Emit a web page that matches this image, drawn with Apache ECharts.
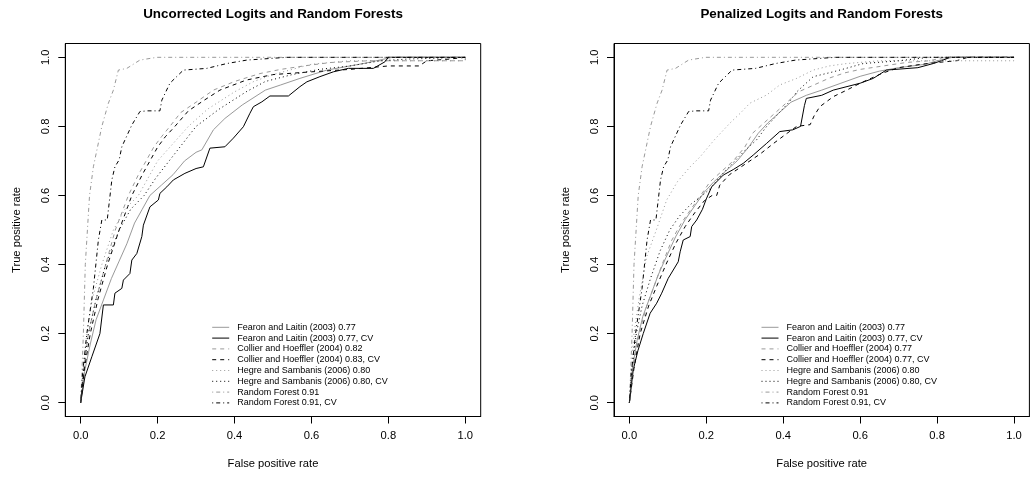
<!DOCTYPE html>
<html><head><meta charset="utf-8">
<script src="https://cdn.jsdelivr.net/npm/echarts@6/dist/echarts.min.js"></script>
<style>html,body{margin:0;padding:0;background:#fff}#c{width:1030px;height:479px}</style>
</head><body><div id="c"></div>
<script>
const panelTitles = ['Uncorrected Logits and Random Forests', 'Penalized Logits and Random Forests'];
const xAxisTitle = 'False positive rate';
const yAxisTitle = 'True positive rate';
const tickValues = [0, 0.2, 0.4, 0.6, 0.8, 1.0];
const legendLeft = ['Fearon and Laitin (2003) 0.77', 'Fearon and Laitin (2003) 0.77, CV',
  'Collier and Hoeffler (2004) 0.82', 'Collier and Hoeffler (2004) 0.83, CV',
  'Hegre and Sambanis (2006) 0.80', 'Hegre and Sambanis (2006) 0.80, CV',
  'Random Forest 0.91', 'Random Forest 0.91, CV'];
const legendRight = ['Fearon and Laitin (2003) 0.77', 'Fearon and Laitin (2003) 0.77, CV',
  'Collier and Hoeffler (2004) 0.77', 'Collier and Hoeffler (2004) 0.77, CV',
  'Hegre and Sambanis (2006) 0.80', 'Hegre and Sambanis (2006) 0.80, CV',
  'Random Forest 0.91', 'Random Forest 0.91, CV'];

// Random forest curves (same in both panels)
const rfTest = [[0,0],[0.0035,0.095],[0.007,0.2],[0.012,0.4],[0.023,0.6],[0.033,0.683],[0.055,0.8],[0.072,0.867],[0.085,0.905],[0.098,0.963],[0.12,0.968],[0.154,0.992],[0.198,1],[1,1]];
const rfCV = [[0,0],[0.005,0.085],[0.016,0.2],[0.026,0.278],[0.033,0.331],[0.046,0.471],[0.055,0.529],[0.069,0.529],[0.081,0.645],[0.089,0.683],[0.1,0.703],[0.107,0.741],[0.133,0.804],[0.154,0.843],[0.173,0.845],[0.206,0.845],[0.211,0.876],[0.232,0.925],[0.267,0.963],[0.328,0.968],[0.38,0.982],[0.432,0.992],[0.536,1],[1,1]];

// Uncorrected logits
const flU = [[0,0],[0.01,0.09],[0.025,0.17],[0.04,0.24],[0.06,0.3],[0.08,0.36],[0.1,0.41],[0.12,0.46],[0.14,0.52],[0.16,0.56],[0.18,0.6],[0.21,0.63],[0.24,0.66],[0.27,0.7],[0.3,0.725],[0.315,0.732],[0.345,0.79],[0.375,0.823],[0.42,0.862],[0.48,0.905],[0.52,0.92],[0.57,0.939],[0.64,0.963],[0.74,0.983],[0.81,1],[1,1]];
const flUcv = [[0,0],[0.011,0.075],[0.029,0.133],[0.05,0.2],[0.059,0.283],[0.085,0.283],[0.089,0.317],[0.107,0.331],[0.111,0.355],[0.128,0.374],[0.133,0.413],[0.146,0.432],[0.159,0.481],[0.163,0.514],[0.18,0.567],[0.202,0.587],[0.206,0.606],[0.224,0.625],[0.241,0.645],[0.271,0.664],[0.3,0.678],[0.319,0.683],[0.336,0.737],[0.375,0.741],[0.397,0.766],[0.423,0.799],[0.44,0.838],[0.449,0.857],[0.471,0.871],[0.492,0.888],[0.54,0.888],[0.57,0.915],[0.588,0.929],[0.622,0.944],[0.657,0.958],[0.696,0.968],[0.761,0.968],[0.791,0.987],[0.8,1],[1,1]];
const chU = [[0,0],[0.008,0.1],[0.02,0.2],[0.04,0.3],[0.065,0.4],[0.09,0.5],[0.124,0.6],[0.15,0.66],[0.17,0.7],[0.19,0.74],[0.21,0.77],[0.232,0.8],[0.26,0.84],[0.3,0.87],[0.345,0.905],[0.4,0.93],[0.466,0.953],[0.52,0.965],[0.58,0.975],[0.65,0.985],[0.75,0.99],[1,0.99],[1,1]];
const chUcv = [[0,0],[0.01,0.1],[0.025,0.2],[0.045,0.3],[0.07,0.4],[0.1,0.5],[0.133,0.6],[0.16,0.66],[0.18,0.7],[0.2,0.74],[0.22,0.77],[0.245,0.8],[0.28,0.845],[0.32,0.875],[0.362,0.905],[0.43,0.934],[0.5,0.95],[0.6,0.958],[0.7,0.965],[0.8,0.975],[0.88,0.975],[0.9,0.99],[0.96,0.995],[1,1]];
const hsU = [[0,0],[0.006,0.1],[0.016,0.2],[0.03,0.3],[0.055,0.4],[0.085,0.5],[0.115,0.56],[0.15,0.6],[0.175,0.65],[0.2,0.7],[0.24,0.75],[0.28,0.8],[0.33,0.85],[0.4,0.9],[0.45,0.93],[0.5,0.95],[0.55,0.965],[0.6,0.98],[0.7,0.99],[1,0.99],[1,1]];
const hsUcv = [[0,0],[0.008,0.1],[0.02,0.2],[0.04,0.3],[0.065,0.4],[0.1,0.5],[0.13,0.56],[0.165,0.6],[0.195,0.65],[0.23,0.7],[0.265,0.75],[0.3,0.8],[0.36,0.85],[0.43,0.9],[0.48,0.93],[0.55,0.95],[0.62,0.965],[0.7,0.975],[0.78,0.99],[0.85,0.995],[1,1]];

// Penalized logits
const flP = [[0,0],[0.008,0.1],[0.02,0.18],[0.035,0.25],[0.055,0.31],[0.075,0.37],[0.095,0.42],[0.12,0.48],[0.145,0.53],[0.17,0.57],[0.195,0.61],[0.22,0.64],[0.25,0.67],[0.28,0.7],[0.31,0.74],[0.335,0.78],[0.36,0.81],[0.39,0.84],[0.42,0.87],[0.46,0.89],[0.5,0.905],[0.55,0.925],[0.6,0.945],[0.65,0.96],[0.7,0.97],[0.77,0.98],[0.8,0.99],[0.84,1],[1,1]];
const flPcv = [[0,0],[0.01,0.095],[0.022,0.15],[0.036,0.2],[0.054,0.259],[0.071,0.288],[0.084,0.317],[0.101,0.36],[0.127,0.408],[0.132,0.437],[0.14,0.471],[0.158,0.481],[0.162,0.51],[0.175,0.529],[0.19,0.56],[0.2,0.59],[0.214,0.625],[0.244,0.659],[0.27,0.675],[0.296,0.693],[0.322,0.717],[0.357,0.751],[0.391,0.785],[0.425,0.79],[0.445,0.8],[0.455,0.86],[0.46,0.881],[0.5,0.89],[0.53,0.905],[0.6,0.925],[0.634,0.939],[0.668,0.963],[0.75,0.97],[0.79,0.982],[0.816,0.992],[0.833,1],[1,1]];
const chP = [[0,0],[0.01,0.1],[0.025,0.2],[0.045,0.28],[0.065,0.34],[0.085,0.4],[0.11,0.47],[0.135,0.52],[0.16,0.56],[0.185,0.6],[0.21,0.64],[0.24,0.67],[0.27,0.7],[0.3,0.74],[0.32,0.78],[0.35,0.81],[0.38,0.84],[0.41,0.87],[0.44,0.9],[0.48,0.92],[0.52,0.94],[0.56,0.955],[0.6,0.965],[0.66,0.975],[0.72,0.985],[0.78,0.99],[0.82,1],[1,1]];
const chPcv = [[0,0],[0.012,0.1],[0.028,0.2],[0.05,0.28],[0.072,0.34],[0.095,0.4],[0.12,0.46],[0.145,0.51],[0.17,0.55],[0.195,0.585],[0.215,0.6],[0.227,0.6],[0.235,0.63],[0.26,0.66],[0.3,0.69],[0.34,0.72],[0.374,0.75],[0.41,0.78],[0.435,0.8],[0.47,0.805],[0.48,0.83],[0.495,0.857],[0.53,0.886],[0.565,0.905],[0.6,0.925],[0.63,0.94],[0.66,0.955],[0.7,0.97],[0.76,0.98],[0.8,0.985],[0.85,0.99],[0.88,1],[1,1]];
const hsP = [[0,0],[0.005,0.1],[0.012,0.2],[0.025,0.3],[0.045,0.423],[0.07,0.5],[0.097,0.587],[0.125,0.64],[0.158,0.683],[0.184,0.712],[0.22,0.76],[0.261,0.809],[0.29,0.84],[0.313,0.867],[0.357,0.891],[0.391,0.92],[0.435,0.939],[0.478,0.963],[0.52,0.975],[0.565,0.982],[0.651,0.99],[1,0.99],[1,1]];
const hsPcv = [[0,0],[0.007,0.1],[0.018,0.2],[0.033,0.28],[0.055,0.36],[0.08,0.44],[0.105,0.5],[0.13,0.54],[0.16,0.575],[0.19,0.6],[0.21,0.62],[0.24,0.66],[0.274,0.7],[0.3,0.73],[0.33,0.76],[0.357,0.8],[0.39,0.84],[0.415,0.87],[0.435,0.9],[0.478,0.944],[0.53,0.958],[0.57,0.97],[0.608,0.982],[0.7,0.99],[0.78,1],[1,1]];

const leftData = [flU, flUcv, chU, chUcv, hsU, hsUcv, rfTest, rfCV];
const rightData = [flP, flPcv, chP, chPcv, hsP, hsPcv, rfTest, rfCV];

const GREY = '#999999', BLACK = '#000000';
const colors = [GREY, BLACK, GREY, BLACK, GREY, BLACK, GREY, BLACK];
const dashes = ['solid', 'solid', [4, 4], [4, 4], [1, 3], [1, 3], [1, 3, 4, 3], [1, 3, 4, 3]];
const FONT = '"Liberation Sans", Arial, Helvetica, sans-serif';

const gridBoxes = [
  { left: 65.3, top: 43.5, width: 415.4, height: 373 },
  { left: 614, top: 43.5, width: 415.4, height: 373 }
];

function mkAxis(gi, isX) {
  return {
    type: 'value', gridIndex: gi, min: -0.04, max: 1.04,
    name: isX ? xAxisTitle : yAxisTitle,
    nameLocation: 'middle', nameGap: isX ? 42 : 43,
    nameTextStyle: { fontFamily: FONT, fontSize: 11.2, color: '#000' },
    axisLine: { show: true, onZero: false, lineStyle: { color: '#000', width: 1 } },
    axisTick: { show: true, inside: false, length: 7, customValues: tickValues, lineStyle: { color: '#000', width: 1 } },
    axisLabel: { show: true, customValues: tickValues, margin: 14, rotate: isX ? 0 : 90,
      formatter: v => Number(v).toFixed(1),
      fontFamily: FONT, fontSize: 11.2, color: '#000' },
    splitLine: { show: false }
  };
}

const series = [];
[leftData, rightData].forEach((set, gi) => {
  const names = gi === 0 ? legendLeft : legendRight;
  set.forEach((d, i) => {
    series.push({
      type: 'line', name: names[i], xAxisIndex: gi, yAxisIndex: gi,
      data: d, symbol: 'none', showSymbol: false, smooth: false,
      clip: true, silent: true, animation: false,
      itemStyle: { color: colors[i] },
      lineStyle: { color: colors[i], width: 1, type: dashes[i] },
      z: 2 + i
    });
  });
});

function mkLegend(names, left) {
  return {
    data: names, orient: 'vertical', left: left, top: 321.9, padding: 0,
    itemWidth: 17, itemHeight: 0.1, itemGap: 0, selectedMode: false,
    lineStyle: { width: 1 },
    textStyle: { fontFamily: FONT, fontSize: 9, lineHeight: 10.8, color: '#000', padding: [0, 0, 0, 3] }
  };
}

const chart = echarts.init(document.getElementById('c'), null, { renderer: 'canvas' });
chart.setOption({
  animation: false,
  backgroundColor: '#ffffff',
  title: [
    { text: panelTitles[0], left: 273, top: 8, textAlign: 'center', padding: 0,
      textStyle: { fontFamily: FONT, fontSize: 13.4, fontWeight: 'bold', color: '#000' } },
    { text: panelTitles[1], left: 821.7, top: 8, textAlign: 'center', padding: 0,
      textStyle: { fontFamily: FONT, fontSize: 13.4, fontWeight: 'bold', color: '#000' } }
  ],
  grid: gridBoxes.map(g => Object.assign({ show: true, borderColor: '#000', borderWidth: 1, backgroundColor: 'transparent', containLabel: false }, g)),
  xAxis: [mkAxis(0, true), mkAxis(1, true)],
  yAxis: [mkAxis(0, false), mkAxis(1, false)],
  legend: [mkLegend(legendLeft, 211.7), mkLegend(legendRight, 761)],
  series: series
});
</script>
</body></html>
